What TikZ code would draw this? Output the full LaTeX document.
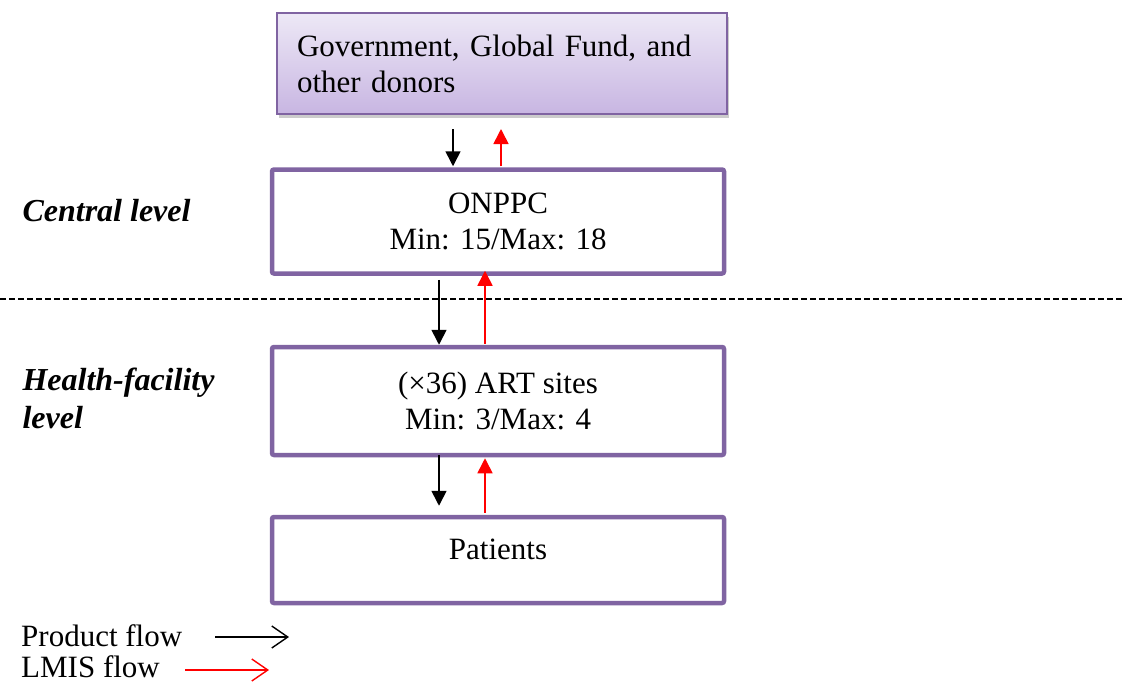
\documentclass[tikz,border=0pt]{standalone}
\usepackage{fontspec}
\setmainfont{Liberation Serif}
\usetikzlibrary{arrows.meta,calc,shadows}
\definecolor{boxpurple}{HTML}{8064A2}
\definecolor{fillTop}{HTML}{EDE8F6}
\definecolor{fillBottom}{HTML}{C8B6E2}
\tikzset{
  every node/.style={font=\fontsize{31}{36}\selectfont},
  donorbox/.style={draw=boxpurple, line width=2pt, top color=fillTop, bottom color=fillBottom,
    minimum width=450pt, minimum height=101pt, text width=410pt, align=left, inner sep=0pt,
    drop shadow={shadow xshift=2pt, shadow yshift=-4pt, opacity=0.4}},
  levelbox/.style={draw=boxpurple, line width=4.5pt, rounded corners=2pt, fill=white,
    minimum width=452pt, align=center, inner sep=0pt},
  levellabel/.style={anchor=base west, font=\fontsize{32}{36}\selectfont\bfseries\itshape},
  legendtext/.style={anchor=base west, inner sep=0pt, text depth=0pt},
  prodflow/.style={line width=1.6pt, -{Triangle[width=15pt,length=15pt]}},
  lmisflow/.style={red, line width=1.6pt, -{Triangle[width=15pt,length=15pt]}},
  prodkey/.style={line width=1.4pt, -{Straight Barb[width=22pt,length=16pt,line width=1.4pt]}},
  lmiskey/.style={red, line width=1.4pt, -{Straight Barb[width=22pt,length=16pt,line width=1.4pt]}},
}
\begin{document}
\begin{tikzpicture}[x=1pt,y=-1pt]
\useasboundingbox (0,0) rectangle (1123,683);

% boxes of the supply chain
\node[donorbox] (donors) at (502,63.5) {Government, Global Fund, and\\other donors};
\node[levelbox, minimum height=104pt] (onppc) at (498,221.5) {ONPPC\\Min: 15/Max: 18};
\node[levelbox, minimum height=108pt] (art) at (498,401) {(×36) ART sites\\Min: 3/Max: 4};
\node[levelbox, minimum height=86pt, text depth=22pt] (patients) at (498,560) {Patients};

% separation between the two levels
\draw[line width=1.2pt, dash pattern=on 6pt off 3pt] (0,299) -- (1123,299);

% level labels
\node[levellabel] (central) at (19,221) {Central level};
\node[levellabel] (health) at (19,390) {Health-facility};
\node[levellabel] (healthb) at (19,428) {level};

% product and information flows
\draw[prodflow] ($(donors.south)+(-49,14)$) -- ($(onppc.north)+(-45,-1)$);
\draw[lmisflow] ($(onppc.north)+(3,-1)$) -- ($(donors.south)+(-1,14)$);
\draw[prodflow] ($(onppc.south)+(-59,4)$) -- ($(art.north)+(-59,0)$);
\draw[lmisflow] ($(art.north)+(-13,-1)$) -- ($(onppc.south)+(-13,-5)$);
\draw[prodflow] ($(art.south)+(-59,-2)$) -- ($(patients.north)+(-59,-9)$);
\draw[lmisflow] ($(patients.north)+(-13,-2)$) -- ($(art.south)+(-13,1)$);

% key
\node[legendtext] (prodtext) at (21,646) {Product flow};
\node[legendtext] (lmistext) at (21,677) {LMIS flow};
\coordinate (prodstart) at (215,637);
\coordinate (prodend) at (289,637);
\coordinate (lmisstart) at (185,670);
\coordinate (lmisend) at (269,670);
\draw[prodkey] (prodstart) -- (prodend);
\draw[lmiskey] (lmisstart) -- (lmisend);
\end{tikzpicture}
\end{document}
